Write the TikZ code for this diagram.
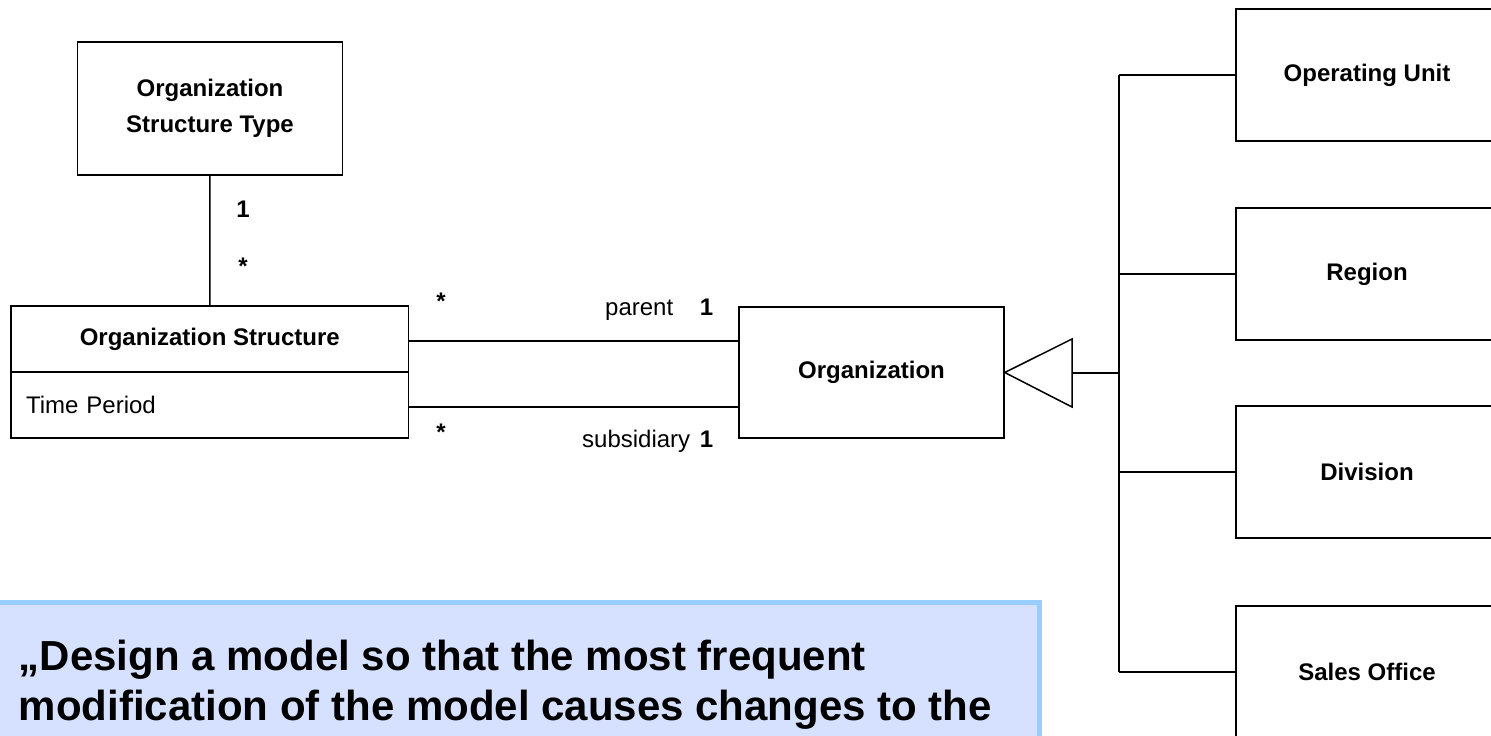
\documentclass[tikz,border=0pt]{standalone}
\usepackage{fontspec}
\setmainfont{Liberation Sans}
\definecolor{notefill}{RGB}{214,224,255}
\definecolor{noteline}{RGB}{153,204,255}
\begin{document}
\begin{tikzpicture}[x=0.5pt, y=-0.5pt, line width=0.75pt,
	cls/.style={draw, rectangle, inner sep=0pt, align=center, font=\fontsize{12pt}{18pt}\selectfont\bfseries},
	sub/.style={cls, minimum width=131pt, minimum height=66pt},
	mult/.style={anchor=base, inner sep=0pt, font=\fontsize{12pt}{14pt}\selectfont\bfseries},
	role/.style={anchor=base east, inner sep=0pt, font=\fontsize{12pt}{14pt}\selectfont},
	notetext/.style={anchor=base west, inner sep=0pt, font=\fontsize{21pt}{25pt}\selectfont\bfseries}]
	\useasboundingbox (0,0) rectangle (1491,735);
	% classes
	\node [cls, minimum width=132.5pt, minimum height=66.5pt] (ost) at (210,108.5) {Organization\\Structure Type};
	\node [cls, minimum width=198.8pt, minimum height=33pt] (osname) at (209.8,339) {Organization Structure};
	\node [cls, minimum height=33pt, text width=183.8pt, inner xsep=7.5pt, align=left, font=\fontsize{12pt}{14pt}\selectfont] (osattr) at (209.8,405) {Time Period};
	\node [cls, minimum width=132.5pt, minimum height=65.5pt] (org) at (871.5,372.5) {Organization};
	\node [sub] (ou) at (1367,75) {Operating Unit};
	\node [sub] (reg) at (1367,274) {Region};
	\node [sub] (div) at (1367,472) {Division};
	\node [sub] (so) at (1367,672) {Sales Office};
	% associations
	\draw (ost) -- (osname);
	\draw ([yshift=-1pt]osname.east) -- ([yshift=-1pt]osname.east -| org.west);
	\draw ([yshift=-1pt]osattr.east) -- ([yshift=-1pt]osattr.east -| org.west);
	\node [mult] (m1) at (243,217) {1};
	\node [mult] (m2) at (243,274) {*};
	\node [mult] (m3) at (441,309) {*};
	\node [mult] (m4) at (441,440) {*};
	\node [role] (rp) at (674,315) {parent};
	\node [mult, anchor=base east] (m5) at (714,315) {1};
	\node [role] (rs) at (691,447) {subsidiary};
	\node [mult, anchor=base east] (m6) at (714,447) {1};
	% generalization
	\coordinate (gbase) at (1072,373);
	\coordinate (trunk) at (1119,373);
	\draw (org.east) -- (1072,339) -- (1072,407) -- cycle;
	\draw (gbase) -- (trunk);
	\draw (trunk |- ou.west) -- (trunk |- so.west);
	\foreach \n in {ou,reg,div,so}
		\draw (trunk |- \n.west) -- (\n.west);
	% note
	\fill [notefill] (0,600) rectangle (1042,740);
	\draw [noteline, line width=2.5pt] (0,602.5) -- (1039.5,602.5) -- (1039.5,740);
	\node [notetext] (note1) at (18,670) {„Design a model so that the most frequent};
	\node [notetext] (note2) at (18,720) {modification of the model causes changes to the};
\end{tikzpicture}
\end{document}
